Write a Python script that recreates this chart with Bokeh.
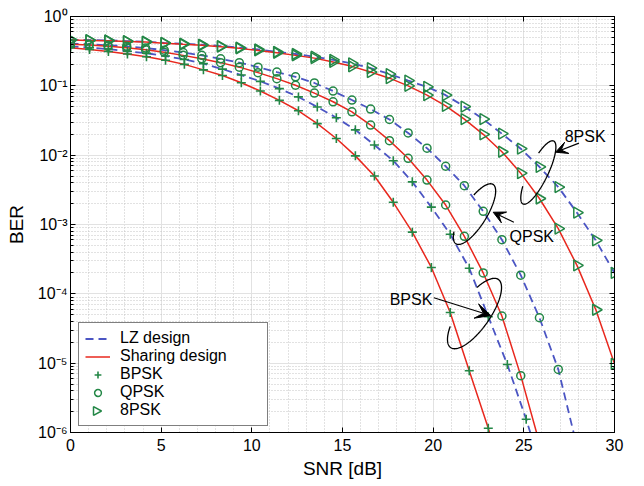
import numpy as np
from bokeh.plotting import figure
from bokeh.models import (FixedTicker, CustomJSTickFormatter, LinearAxis, LogAxis, Range1d,
                          Legend, LegendItem, Label, Arrow, VeeHead, PolyAnnotation, BoxAnnotation)
from bokeh.embed import file_html
from bokeh.resources import INLINE

# ---------------- data ----------------
snr_bpsk = [0, 1.05, 2.09, 3.14, 4.19, 5.24, 6.28, 7.33, 8.38, 9.42, 10.47, 11.52, 12.57,
            13.61, 14.66, 15.71, 16.76, 17.80, 18.85, 19.90, 20.94, 21.99, 23.04, 24.09,
            25.13, 26.18]
snr_mpsk = [0, 1.03, 2.07, 3.10, 4.14, 5.17, 6.21, 7.24, 8.28, 9.31, 10.34, 11.38, 12.41,
            13.45, 14.48, 15.52, 16.55, 17.59, 18.62, 19.66, 20.69, 21.72, 22.76, 23.79,
            24.83, 25.86, 26.90, 27.93, 28.97, 30.00]

ber_bpsk_sharing = [0.355, 0.335, 0.313, 0.288, 0.263, 0.234, 0.204, 0.170, 0.141, 0.111,
                    0.0841, 0.0617, 0.0437, 0.0285, 0.0174, 0.00977, 0.00501, 0.00209,
                    7.76e-4, 2.40e-4, 5.37e-5, 7.76e-6, 1.15e-6, 1.41e-7]
ber_bpsk_lz = [0.372, 0.355, 0.339, 0.316, 0.295, 0.269, 0.240, 0.209, 0.174, 0.143,
               0.116, 0.0912, 0.0692, 0.0495, 0.0347, 0.0232, 0.0140, 0.00832, 0.00412,
               0.00178, 7.24e-4, 2.34e-4, 4.68e-5, 9.55e-6, 1.55e-6, 2.0e-7]
ber_qpsk_sharing = [0.398, 0.389, 0.372, 0.355, 0.331, 0.305, 0.275, 0.245, 0.216, 0.186,
                    0.155, 0.127, 0.102, 0.0785, 0.0589, 0.0422, 0.0272, 0.0162, 0.00902,
                    0.00437, 0.00191, 6.76e-4, 2.0e-4, 4.79e-5, 6.61e-6, 7.08e-7]
ber_qpsk_lz = [0.407, 0.398, 0.385, 0.372, 0.351, 0.327, 0.302, 0.275, 0.245, 0.216,
               0.186, 0.158, 0.135, 0.110, 0.0841, 0.0624, 0.0462, 0.0327, 0.0209,
               0.0126, 0.00692, 0.00363, 0.00155, 6.03e-4, 1.86e-4, 4.52e-5, 8.13e-6,
               6.31e-7]
ber_8psk_sharing = [0.457, 0.452, 0.447, 0.437, 0.427, 0.412, 0.398, 0.385, 0.367, 0.347,
                    0.324, 0.299, 0.275, 0.251, 0.221, 0.191, 0.158, 0.129, 0.100, 0.0733,
                    0.0513, 0.0331, 0.0200, 0.0112, 0.00550, 0.00237, 8.71e-4, 2.57e-4,
                    5.89e-5, 9.77e-6]
ber_8psk_lz = [0.462, 0.457, 0.452, 0.442, 0.432, 0.417, 0.405, 0.392, 0.375, 0.356,
               0.335, 0.309, 0.288, 0.263, 0.237, 0.211, 0.180, 0.148, 0.119, 0.0968,
               0.0733, 0.0501, 0.0331, 0.0204, 0.0124, 0.00676, 0.00347, 0.00148,
               5.89e-4, 2.0e-4]

x_ticks = [0, 5, 10, 15, 20, 25, 30]
y_ticks = [1e-6, 1e-5, 1e-4, 1e-3, 1e-2, 1e-1, 1]

# annotation anchors (data coordinates) and labels
ann_labels = ["8PSK", "QPSK", "BPSK"]
ann_text_pos = [(27.25, 10 ** -1.731), (24.21, 10 ** -3.17), (17.6, 10 ** -4.08)]
ann_arrow_tail = [(28.04, 10 ** -1.827), (24.45, 10 ** -2.967), (20.04, 10 ** -4.057)]
ann_arrow_head = [(26.75, 10 ** -1.957), (23.31, 10 ** -2.823), (23.17, 10 ** -4.313)]
ann_ell_center = [(25.8, 10 ** -2.25), (22.28, 10 ** -2.85), (22.28, 10 ** -4.284)]
ann_ell_shape = [(35, 9.5, 64, 1.05, 2.15), (35, 12, 58, 1.1, 2.4), (41.6, 15.5, 55, 1.0, 2.2)]
ann_head_size = [12, 12, 15]

# ---------------- layout ----------------
W, H = 644, 486
BL, BR, BT, BB = 70, 30, 16, 54
FW, FH = W - BL - BR, H - BT - BB

RED = "#e8281e"
BLUE = "#4b55c3"
GREEN = "#238746"
FONT = "Liberation Sans"

p = figure(width=W, height=H, y_axis_type="log", output_backend="svg", toolbar_location=None,
           x_range=Range1d(0, 30), y_range=Range1d(1e-6, 1),
           min_border_left=BL, min_border_right=BR, min_border_top=BT, min_border_bottom=BB)
p.background_fill_color = "white"
p.border_fill_color = "white"
p.outline_line_color = "black"

xt = FixedTicker(ticks=x_ticks, minor_ticks=[i for i in range(31) if i % 5])
yt = FixedTicker(ticks=y_ticks, minor_ticks=[m * 10.0 ** e for e in range(-6, 0) for m in range(2, 10)])
sup_code = """
const e = Math.round(Math.log10(tick));
const m = {'-':'\u207b','0':'\u2070','1':'\u00b9','2':'\u00b2','3':'\u00b3','4':'\u2074',
           '5':'\u2075','6':'\u2076','7':'\u2077','8':'\u2078','9':'\u2079'};
return '10' + String(e).split('').map(c => m[c]).join('');
"""
blank = CustomJSTickFormatter(code="return '';")

xa = p.xaxis[0]
ya = p.yaxis[0]
xa.ticker = xt
ya.ticker = yt
ya.formatter = CustomJSTickFormatter(code=sup_code)
xa.axis_label = "SNR [dB]"
ya.axis_label = "BER"

top = LinearAxis(ticker=xt, formatter=blank)
right = LogAxis(ticker=yt, formatter=blank)
p.add_layout(top, "above")
p.add_layout(right, "right")

for ax in [xa, ya, top, right]:
    ax.major_tick_in = 5
    ax.major_tick_out = 0
    ax.minor_tick_in = 3
    ax.minor_tick_out = 0
    ax.axis_line_color = "black"
    ax.major_tick_line_color = "black"
    ax.major_label_text_font = FONT
    ax.major_label_text_font_size = "16px"
    ax.major_label_text_color = "black"
    ax.axis_label_text_font = FONT
    ax.axis_label_text_font_size = "19px"
    ax.axis_label_text_font_style = "normal"
    ax.axis_label_text_color = "black"
for ax in [xa, top]:
    ax.minor_tick_line_color = None
for ax in [ya, right]:
    ax.minor_tick_line_color = "black"
xa.major_label_standoff = 6
xa.axis_label_standoff = 4
ya.major_label_standoff = 3
ya.axis_label_standoff = 8
top.major_label_standoff = 0
right.major_label_standoff = 0

for g in [p.xgrid[0], p.ygrid[0]]:
    g.grid_line_color = "#e2e2e2"
    g.grid_line_width = 1
    g.minor_grid_line_color = "#c4c4c4"
    g.minor_grid_line_dash = "1 2"
    g.minor_grid_line_width = 1
p.xgrid[0].ticker = xt
p.ygrid[0].ticker = yt

# ---------------- helpers ----------------
def px_to_data(cx, cy, dx, dy):
    """offset a data point by (dx, dy) screen pixels (dy upward)"""
    return cx + np.asarray(dx) / (FW / 30.0), cy * 10 ** (np.asarray(dy) / (FH / 6.0))

# legend box geometry (screen px from frame bottom-left)
LEG_X, LEG_Y, LEG_W, LEG_H = 8, 6, 190, 104
bx0, by0 = px_to_data(0.0, 1e-6, LEG_X, LEG_Y)
bx1, by1 = px_to_data(0.0, 1e-6, LEG_X + LEG_W, LEG_Y + LEG_H)
# white panel that hides the grid behind the (transparent) legend
p.add_layout(BoxAnnotation(left=float(bx0), right=float(bx1), bottom=float(by0), top=float(by1),
                           fill_color="white", fill_alpha=1, line_alpha=0, level="underlay"))

# ---------------- curves ----------------
series = [
    (snr_bpsk, ber_bpsk_lz, "lz", "cross"),
    (snr_bpsk, ber_bpsk_sharing, "sh", "cross"),
    (snr_mpsk, ber_qpsk_lz, "lz", "circle"),
    (snr_mpsk, ber_qpsk_sharing, "sh", "circle"),
    (snr_mpsk, ber_8psk_lz, "lz", "triangle"),
    (snr_mpsk, ber_8psk_sharing, "sh", "triangle"),
]
line_r = {}
mark_r = {}
for xs, ys, kind, mk in series:
    xs = xs[:len(ys)]
    if kind == "lz":
        r = p.line(xs, ys, line_color=BLUE, line_width=1.8, line_dash="8 5")
    else:
        r = p.line(xs, ys, line_color=RED, line_width=1.5)
    line_r[kind] = r
TRI_ANGLE = -np.pi / 2
for xs, ys, kind, mk in series:
    xs = xs[:len(ys)]
    if mk == "cross":
        r = p.scatter(xs, ys, marker="cross", size=9, line_color=GREEN, line_width=1.6)
    elif mk == "circle":
        r = p.scatter(xs, ys, marker="circle", size=8, line_color=GREEN, fill_color=None, line_width=1.5)
    else:
        r = p.scatter(xs, ys, marker="triangle", size=11, angle=TRI_ANGLE, line_color=GREEN,
                      fill_color=None, line_width=1.5)
    mark_r[mk] = r

# ---------------- annotations ----------------
def ellipse_arc(cx, cy, a, b, theta_deg, g0, g1):
    t = np.linspace(g1, g0 + 2 * np.pi, 160)
    th = np.radians(theta_deg)
    dx = a * np.cos(t) * np.cos(th) - b * np.sin(t) * np.sin(th)
    dy = a * np.cos(t) * np.sin(th) + b * np.sin(t) * np.cos(th)
    return px_to_data(cx, cy, dx, dy)

for i in range(3):
    cx, cy = ann_ell_center[i]
    ex, ey = ellipse_arc(cx, cy, *ann_ell_shape[i])
    p.line(ex, ey, line_color="black", line_width=1.3)
    (x0, y0), (x1, y1) = ann_arrow_tail[i], ann_arrow_head[i]
    p.add_layout(Arrow(end=VeeHead(size=ann_head_size[i], fill_color="black", line_color="black",
                                   line_width=1),
                       x_start=x0, y_start=y0, x_end=x1, y_end=y1,
                       line_color="black", line_width=1.2))
    tx, ty = ann_text_pos[i]
    p.add_layout(Label(x=tx, y=ty, text=ann_labels[i], text_font=FONT, text_font_size="16px",
                       text_color="black", text_baseline="alphabetic",
                       background_fill_color=None))

# ---------------- legend ----------------
tri_blank = p.scatter([], [], marker="triangle", size=1, line_alpha=0, fill_alpha=0)
legend = Legend(items=[
    LegendItem(label="LZ design", renderers=[line_r["lz"]]),
    LegendItem(label="Sharing design", renderers=[line_r["sh"]]),
    LegendItem(label="BPSK", renderers=[mark_r["cross"]]),
    LegendItem(label="QPSK", renderers=[mark_r["circle"]]),
    LegendItem(label="8PSK", renderers=[tri_blank]),
], location=(LEG_X, LEG_Y))
legend.border_line_color = "black"
legend.border_line_width = 1
legend.background_fill_color = "white"
legend.background_fill_alpha = 0
legend.label_text_font = FONT
legend.label_text_font_size = "16px"
legend.label_text_color = "black"
legend.glyph_width = 25
legend.glyph_height = 17
legend.label_height = 17
legend.label_standoff = 10
legend.label_width = 141
legend.padding = 6
legend.spacing = -2
legend.margin = 0
p.add_layout(legend)

# right-pointing triangle glyph for the legend's 8PSK row
lx0, ly0 = px_to_data(0.0, 1e-6, LEG_X + 6 + 12.5, LEG_Y + 6 + 9.5)
tx_, ty_ = px_to_data(float(lx0), float(ly0), [4.5, -3.5, -3.5], [0.0, 4.3, -4.3])
p.add_layout(PolyAnnotation(xs=list(tx_), ys=list(ty_), fill_color=None, fill_alpha=0,
                            line_color=GREEN, line_width=1.5, line_alpha=1))

open("out.html", "w").write(file_html(p, INLINE))
